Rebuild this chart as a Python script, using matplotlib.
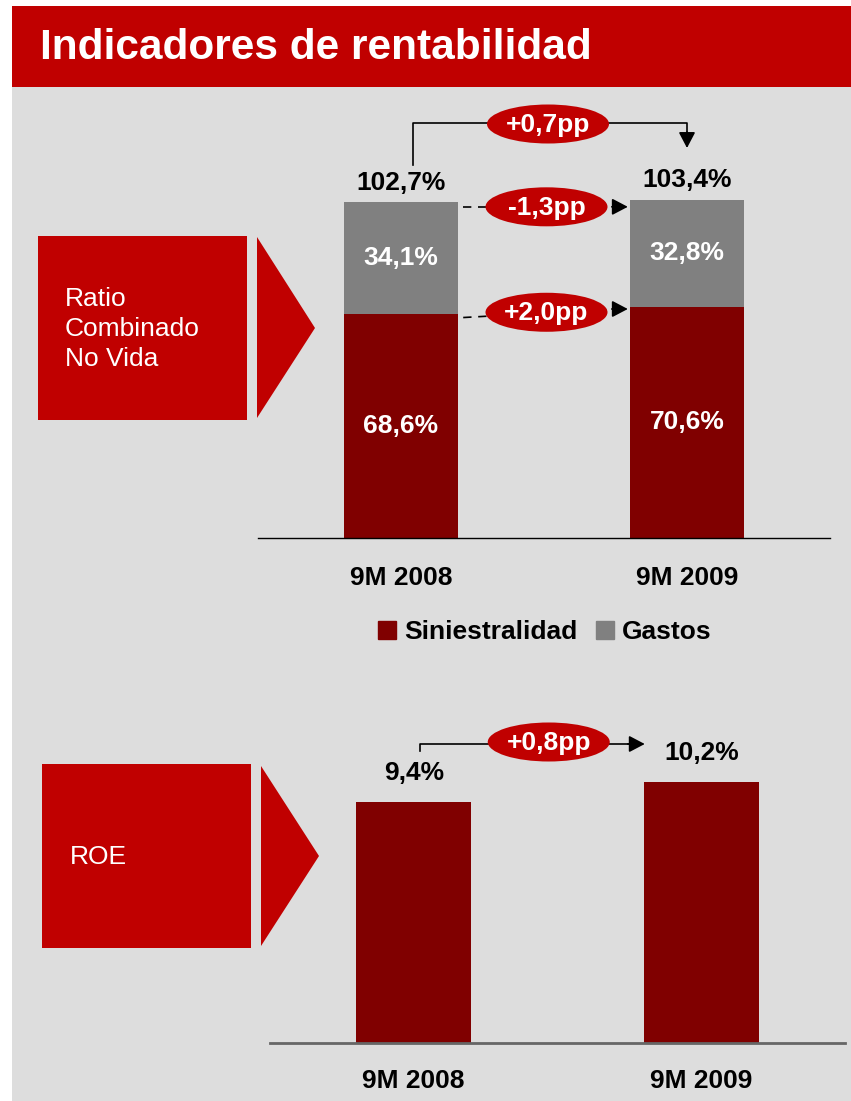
import matplotlib
matplotlib.use("Agg")
import matplotlib.pyplot as plt
from matplotlib.patches import Rectangle, Polygon, Ellipse, Patch

plt.rcParams['font.family'] = ['Liberation Sans', 'DejaVu Sans']

# ---------------- data ----------------
title = "Indicadores de rentabilidad"
periods = ["9M 2008", "9M 2009"]
siniestralidad = [68.6, 70.6]
gastos = [34.1, 32.8]
combined_labels = ["102,7%", "103,4%"]
sin_labels = ["68,6%", "70,6%"]
gas_labels = ["34,1%", "32,8%"]
delta_total = "+0,7pp"
delta_gastos = "-1,3pp"
delta_sin = "+2,0pp"
roe = [9.4, 10.2]
roe_labels = ["9,4%", "10,2%"]
delta_roe = "+0,8pp"
series_names = ["Siniestralidad", "Gastos"]
box_top_text = "Ratio\nCombinado\nNo Vida"
box_bottom_text = "ROE"

# ---------------- style ----------------
RED = "#C00000"
DARK = "#800000"
GREY = "#808080"
BG = "#DDDDDD"
W, H = 851, 1101
FS = 19

fig = plt.figure(figsize=(W / 100, H / 100), dpi=100)
fig.patch.set_facecolor("white")

def frac(x0, y0, x1, y1):
    # pixel box (top-left origin) -> figure fraction [l, b, w, h]
    return [x0 / W, 1 - y1 / H, (x1 - x0) / W, (y1 - y0) / H]

# background / decoration axes in pixel coordinates
bg = fig.add_axes([0, 0, 1, 1], zorder=0)
bg.set_xlim(0, W)
bg.set_ylim(H, 0)
bg.axis("off")

bg.add_patch(Rectangle((12, 87), W - 12, H - 87, color=BG, lw=0))
bg.add_patch(Rectangle((12, 6), W - 12, 81, color=RED, lw=0))
bg.text(40, 48, title, color="white", fontsize=30.5, fontweight="bold", va="center", ha="left")

# left boxes with triangles
bg.add_patch(Rectangle((38, 236), 209, 184, color=RED, lw=0))
bg.add_patch(Polygon([(257, 237), (315, 328), (257, 418)], closed=True, color=RED, lw=0))
bg.text(65, 329, box_top_text, color="white", fontsize=19, va="center", ha="left", linespacing=1.32)

bg.add_patch(Rectangle((42, 764), 209, 184, color=RED, lw=0))
bg.add_patch(Polygon([(261, 766), (319, 856), (261, 946)], closed=True, color=RED, lw=0))
bg.text(70, 857, box_bottom_text, color="white", fontsize=19, va="center", ha="left")

# ---------------- top chart ----------------
ax1 = fig.add_axes(frac(258, 100, 830, 538), zorder=1)
ax1.set_facecolor("none")
x = [0, 1]
bw = 0.40
ax1.bar(x, siniestralidad, bw, color=DARK, label=series_names[0], zorder=2)
ax1.bar(x, gastos, bw, bottom=siniestralidad, color=GREY, label=series_names[1], zorder=2)
ax1.set_xlim(-0.5, 1.5)
ax1.set_ylim(0, 438 / 3.272)
for s in ["top", "right", "left"]:
    ax1.spines[s].set_visible(False)
ax1.spines["bottom"].set_color("black")
ax1.spines["bottom"].set_linewidth(1.0)
ax1.set_yticks([])
ax1.set_xticks(x)
ax1.set_xticklabels(periods, fontsize=FS, fontweight="bold")
ax1.tick_params(axis="x", length=0, pad=20)

for i in x:
    tot = siniestralidad[i] + gastos[i]
    ax1.annotate(combined_labels[i], (i, tot), xytext=(0, 14), textcoords="offset points",
                 ha="center", va="center", fontsize=FS, fontweight="bold", color="black")
    ax1.text(i, siniestralidad[i] + gastos[i] / 2, gas_labels[i], ha="center", va="center",
             fontsize=FS, fontweight="bold", color="white", zorder=3)
    ax1.text(i, siniestralidad[i] / 2, sin_labels[i], ha="center", va="center",
             fontsize=FS, fontweight="bold", color="white", zorder=3)

fig.legend(handles=[Patch(color=DARK), Patch(color=GREY)], labels=series_names,
           loc="center", bbox_to_anchor=(545 / W, 1 - 632 / H), ncol=2, frameon=False,
           prop={"size": FS, "weight": "bold"}, handlelength=0.68, handleheight=0.68,
           handletextpad=0.3, columnspacing=0.7)

# ---------------- bottom chart ----------------
ax2 = fig.add_axes(frac(270, 700, 845, 1043), zorder=1)
ax2.set_facecolor("none")
ax2.bar(x, roe, bw, color=DARK, zorder=2)
ax2.set_xlim(-0.5, 1.5)
ax2.set_ylim(0, 343 / 25.6)
for s in ["top", "right", "left"]:
    ax2.spines[s].set_visible(False)
ax2.spines["bottom"].set_color("#666666")
ax2.spines["bottom"].set_linewidth(2.0)
ax2.set_yticks([])
ax2.set_xticks(x)
ax2.set_xticklabels(periods, fontsize=FS, fontweight="bold")
ax2.tick_params(axis="x", length=0, pad=19)
for i in x:
    ax2.annotate(roe_labels[i], (i, roe[i]), xytext=(0, 21), textcoords="offset points",
                 ha="center", va="center", fontsize=FS, fontweight="bold", color="black")

# ---------------- change arrows ----------------
def px(ax, xd, yd):
    dx, dy = ax.transData.transform((xd, yd))
    return dx, H - dy

def head(x0, y0, x1, y1):
    bg.annotate("", xy=(x1, y1), xytext=(x0, y0),
                arrowprops=dict(arrowstyle="-|>,head_length=0.8,head_width=0.42",
                                mutation_scale=12, color="black", lw=1.2,
                                shrinkA=0, shrinkB=0))

def bubble(cx, cy, text):
    bg.add_patch(Ellipse((cx, cy), 122, 39, color=RED, lw=0, zorder=3))
    bg.text(cx, cy + 1, text, color="white", fontsize=FS, fontweight="bold",
            ha="center", va="center", zorder=4)

# total change (top)
l_x, _ = px(ax1, 0, 0)
r_x, _ = px(ax1, 1, 0)
_, t0 = px(ax1, 0, siniestralidad[0] + gastos[0])
bg.plot([l_x + 12, l_x + 12, r_x, r_x], [t0 - 37, 123, 123, 134], color="black", lw=1.2)
head(r_x, 132, r_x, 148)
bubble((l_x + r_x) / 2 + 4, 124, delta_total)

# gastos change
_, g0 = px(ax1, 0, siniestralidad[0] + gastos[0])
_, g1 = px(ax1, 1, siniestralidad[1] + gastos[1])
gx0 = px(ax1, 0 + bw / 2, 0)[0] + 5
gx1 = px(ax1, 1 - bw / 2, 0)[0] - 2
gy = (g0 + g1) / 2 + 6
bg.plot([gx0, gx1 - 12], [gy, gy], color="black", lw=1.2, ls=(0, (5, 4)))
head(gx1 - 16, gy, gx1, gy)
bubble((gx0 + gx1) / 2 + 1, gy, delta_gastos)

# siniestralidad change
_, s0 = px(ax1, 0, siniestralidad[0])
_, s1 = px(ax1, 1, siniestralidad[1])
bg.plot([gx0, gx1 - 12], [s0 + 4, s1 + 2], color="black", lw=1.2, ls=(0, (5, 4)))
head(gx1 - 16, s1 + 2, gx1, s1 + 2)
bubble((gx0 + gx1) / 2 + 1, (s0 + s1) / 2 + 2, delta_sin)

# ROE change
rl_x, _ = px(ax2, 0, 0)
_, rt0 = px(ax2, 0, roe[0])
rb_x = px(ax2, 1 - bw / 2, 0)[0]
bg.plot([rl_x + 6, rl_x + 6, rb_x - 12], [rt0 - 51, 744, 744], color="black", lw=1.2)
head(rb_x - 16, 744, rb_x + 1, 744)
bubble((rl_x + rb_x) / 2 + 20, 742, delta_roe)

fig.savefig("out.png", dpi=100, facecolor=fig.get_facecolor())
